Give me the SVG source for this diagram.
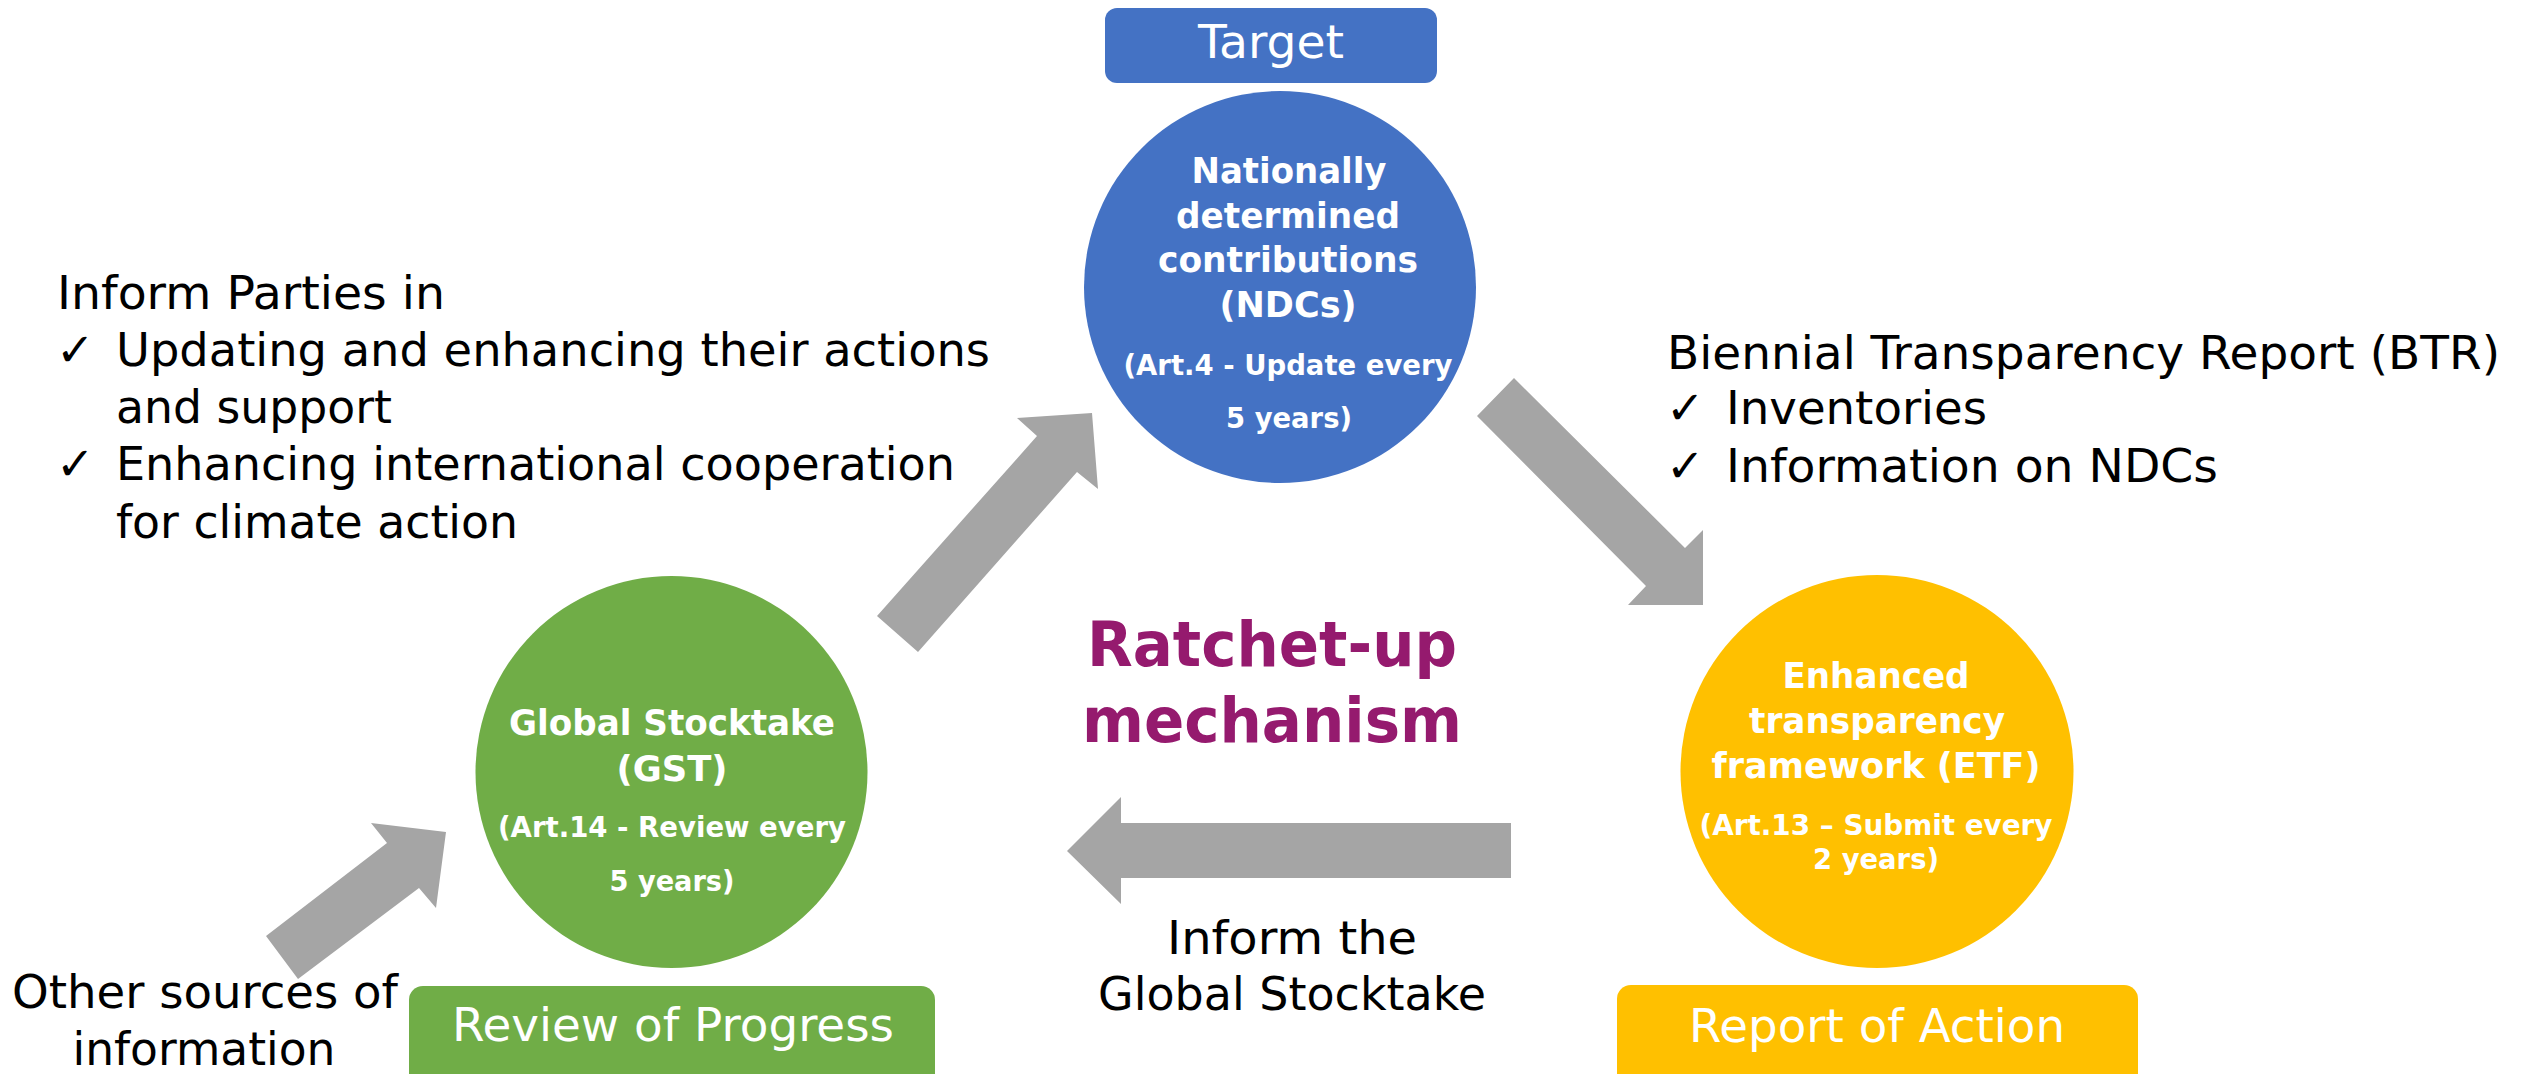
<svg xmlns="http://www.w3.org/2000/svg" width="2526" height="1074" viewBox="0 0 2526 1074">
  <style>
    text { font-family: "DejaVu Sans", Verdana, "Liberation Sans", sans-serif; }
    .body { font-size: 46px; fill: #000000; }
    .tag { font-size: 46px; fill: #ffffff; text-anchor: middle; }
    .title { font-size: 36px; font-weight: bold; fill: #ffffff; text-anchor: middle; }
    .sub { font-size: 29px; font-weight: bold; fill: #ffffff; text-anchor: middle; }
    .mid { text-anchor: middle; }
    .ratchet { font-size: 62px; font-weight: bold; fill: #951A6E; text-anchor: middle; }
    .arrow { fill: #A5A5A5; }
  </style>

  <rect width="2526" height="1074" fill="#ffffff"/>

  <!-- Block arrows linking the three stages -->
  <g id="connectors">
    <polygon class="arrow" points="1514,378 1685,548 1703,530 1703,605 1628,605 1646,586 1477,416"/>
    <polygon class="arrow" points="1511,823 1121,823 1121,797 1067,851 1121,904 1121,878 1511,878"/>
    <polygon class="arrow" points="877,616 1037,436 1017,418 1092,413 1098,489 1077,472 918,652"/>
    <polygon class="arrow" points="266,936 387,843 371,823 446,832 436,908 419,888 298,979"/>
  </g>

  <!-- Target -->
  <g id="label-target">
    <rect x="1105" y="8" width="332" height="75" rx="12" fill="#4472C4"/>
    <text class="tag" x="1271" y="58" textLength="146" lengthAdjust="spacingAndGlyphs">Target</text>
  </g>

  <!-- NDC stage -->
  <g id="node-ndc">
    <circle cx="1280" cy="287" r="196" fill="#4472C4"/>
    <text class="title" x="1289" y="183" textLength="195" lengthAdjust="spacingAndGlyphs">Nationally</text>
    <text class="title" x="1288" y="228" textLength="224" lengthAdjust="spacingAndGlyphs">determined</text>
    <text class="title" x="1288" y="272" textLength="260" lengthAdjust="spacingAndGlyphs">contributions</text>
    <text class="title" x="1288" y="317" textLength="137" lengthAdjust="spacingAndGlyphs">(NDCs)</text>
    <text class="sub" x="1288" y="375" textLength="329" lengthAdjust="spacingAndGlyphs">(Art.4 - Update every</text>
    <text class="sub" x="1289" y="428" textLength="126" lengthAdjust="spacingAndGlyphs">5 years)</text>
  </g>

  <!-- ETF stage -->
  <g id="node-etf">
    <circle cx="1877" cy="771.5" r="196.5" fill="#FFC000"/>
    <text class="title" x="1876" y="688" textLength="187" lengthAdjust="spacingAndGlyphs">Enhanced</text>
    <text class="title" x="1877" y="733" textLength="256" lengthAdjust="spacingAndGlyphs">transparency</text>
    <text class="title" x="1876" y="778" textLength="329" lengthAdjust="spacingAndGlyphs">framework (ETF)</text>
    <text class="sub" x="1876" y="835" textLength="353" lengthAdjust="spacingAndGlyphs">(Art.13 – Submit every</text>
    <text class="sub" x="1876" y="869" textLength="126" lengthAdjust="spacingAndGlyphs">2 years)</text>
  </g>

  <!-- Report of Action -->
  <g id="label-report">
    <rect x="1617" y="985" width="521" height="110" rx="14" fill="#FFC000"/>
    <text class="tag" x="1877" y="1042" textLength="376" lengthAdjust="spacingAndGlyphs">Report of Action</text>
  </g>

  <!-- GST stage -->
  <g id="node-gst">
    <circle cx="671.5" cy="772" r="196" fill="#70AD47"/>
    <text class="title" x="672" y="735" font-size="35" textLength="326" lengthAdjust="spacingAndGlyphs">Global Stocktake</text>
    <text class="title" x="672" y="781" font-size="35" textLength="111" lengthAdjust="spacingAndGlyphs">(GST)</text>
    <text class="sub" x="672" y="837" textLength="348" lengthAdjust="spacingAndGlyphs">(Art.14 - Review every</text>
    <text class="sub" x="672" y="891" textLength="125" lengthAdjust="spacingAndGlyphs">5 years)</text>
  </g>

  <!-- Review of Progress -->
  <g id="label-review">
    <rect x="409" y="986" width="526" height="110" rx="14" fill="#70AD47"/>
    <text class="tag" x="673" y="1041" textLength="442" lengthAdjust="spacingAndGlyphs">Review of Progress</text>
  </g>

  <!-- Centre caption -->
  <g id="caption-ratchet">
    <text class="ratchet" x="1272" y="666" textLength="370" lengthAdjust="spacingAndGlyphs">Ratchet-up</text>
    <text class="ratchet" x="1272" y="742" textLength="380" lengthAdjust="spacingAndGlyphs">mechanism</text>
  </g>

  <!-- Notes -->
  <g id="note-inform-parties" class="body">
    <text x="57" y="309" textLength="388" lengthAdjust="spacingAndGlyphs">Inform Parties in</text>
    <text x="56" y="366">✓</text>
    <text x="116" y="366" textLength="874" lengthAdjust="spacingAndGlyphs">Updating and enhancing their actions</text>
    <text x="116" y="423" textLength="276" lengthAdjust="spacingAndGlyphs">and support</text>
    <text x="56" y="480">✓</text>
    <text x="116" y="480" textLength="839" lengthAdjust="spacingAndGlyphs">Enhancing international cooperation</text>
    <text x="116" y="538" textLength="402" lengthAdjust="spacingAndGlyphs">for climate action</text>
  </g>

  <g id="note-btr" class="body">
    <text x="1667" y="369" textLength="833" lengthAdjust="spacingAndGlyphs">Biennial Transparency Report (BTR)</text>
    <text x="1666" y="424">✓</text>
    <text x="1726" y="424" textLength="261" lengthAdjust="spacingAndGlyphs">Inventories</text>
    <text x="1666" y="482">✓</text>
    <text x="1726" y="482" textLength="492" lengthAdjust="spacingAndGlyphs">Information on NDCs</text>
  </g>

  <g id="note-inform-gst" class="body">
    <text class="mid" x="1292" y="954" textLength="250" lengthAdjust="spacingAndGlyphs">Inform the</text>
    <text class="mid" x="1292" y="1010" textLength="388" lengthAdjust="spacingAndGlyphs">Global Stocktake</text>
  </g>

  <g id="note-other-sources" class="body">
    <text class="mid" x="205" y="1008" textLength="386" lengthAdjust="spacingAndGlyphs">Other sources of</text>
    <text class="mid" x="204" y="1065" textLength="263" lengthAdjust="spacingAndGlyphs">information</text>
  </g>
</svg>
